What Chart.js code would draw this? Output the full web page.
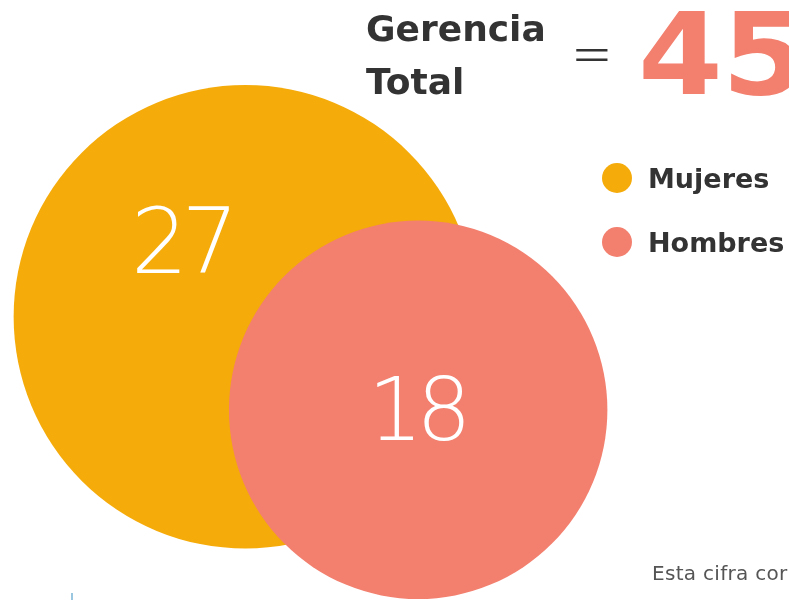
<!DOCTYPE html>
<html lang="es">
<head>
<meta charset="utf-8">
<script src="https://cdn.jsdelivr.net/npm/chart.js@4/dist/chart.umd.min.js"></script>
<style>
  html, body { margin: 0; padding: 0; background: #fff; overflow: hidden; }
  body { width: 789px; height: 600px; position: relative; font-family: 'DejaVu Sans', sans-serif; }
  #grafica { position: absolute; left: 0; top: 0; }
  .titulo { position: absolute; left: 366px; top: 2px; font-size: 36px; font-weight: bold; color: #333; line-height: 53px; }
  .igual { position: absolute; left: 571px; top: 23px; font-size: 60px; font-weight: 200; color: #333; transform: scaleX(0.83); transform-origin: left top; line-height: 1; }
  .total { position: absolute; left: 638px; top: -12px; font-size: 114px; font-weight: bold; color: #F37F6E; letter-spacing: -1px; transform: scaleX(1.07); transform-origin: left top; }
  .leyenda { position: absolute; left: 602px; top: 146px; }
  .leyenda div { display: flex; align-items: center; height: 64px; font-size: 27px; font-weight: bold; color: #333; }
  .leyenda span.punto { width: 30px; height: 30px; border-radius: 50%; margin-right: 16px; display: inline-block; }
  .nota { position: absolute; left: 652px; top: 561px; font-size: 20px; color: #555; white-space: nowrap; letter-spacing: 0.3px; }
  .marca { position: absolute; left: 71px; top: 593px; width: 2px; height: 7px; background: #9cc7e0; }
</style>
</head>
<body>
<canvas id="grafica" width="789" height="600"></canvas>
<div class="titulo">Gerencia<br>Total</div>
<div class="igual">=</div>
<div class="total" id="total"></div>
<div class="leyenda" id="leyenda"></div>
<div class="nota">Esta cifra corresponde</div>
<div class="marca"></div>
<script>
// datos
const categorias = ['Mujeres', 'Hombres'];
const valores = [27, 18];
const colores = ['#F5AB0A', '#F37F6E'];
// centro de cada burbuja (unidades de la escala 0-100)
const posX = [31.1, 53];
const posY = [47.2, 31.7];

document.addEventListener('DOMContentLoaded', () => {
    // total y leyenda
    document.getElementById('total').textContent = valores.reduce((a, b) => a + b, 0);
    const leyenda = document.getElementById('leyenda');
    categorias.forEach((c, i) => {
        const fila = document.createElement('div');
        fila.innerHTML = '<span class="punto" style="background:' + colores[i] + '"></span>' + c;
        leyenda.appendChild(fila);
    });

    // numero blanco dentro de cada burbuja (desplazado para la primera)
    const desplazamiento = [[-64, -67], [-2, 8]];
    const etiquetasBurbuja = {
        id: 'etiquetasBurbuja',
        afterDatasetsDraw(chart) {
            const ctx = chart.ctx;
            ctx.save();
            ctx.fillStyle = '#fff';
            ctx.textAlign = 'center';
            ctx.textBaseline = 'middle';
            ctx.letterSpacing = '-7px';
            chart.data.datasets.forEach((ds, i) => {
                const p = chart.getDatasetMeta(i).data[0];
                ctx.font = "200 " + (i === 0 ? 90 : 87) + "px 'DejaVu Sans', sans-serif";
                ctx.fillText(String(valores[i]), p.x + desplazamiento[i][0], p.y + desplazamiento[i][1]);
            });
            ctx.restore();
        }
    };

    try {
        const ctx = document.getElementById('grafica').getContext('2d');
        new Chart(ctx, {
            type: 'bubble',
            data: {
                datasets: categorias.map((c, i) => ({
                    label: c,
                    data: [{ x: posX[i], y: posY[i], r: Math.sqrt(valores[i]) * 44.6 }],
                    backgroundColor: colores[i],
                    borderWidth: 0,
                    hoverRadius: 0,
                    order: categorias.length - i,
                    clip: false
                }))
            },
            options: {
                responsive: false,
                animation: false,
                layout: { padding: 0, autoPadding: false },
                scales: {
                    x: { display: false, min: 0, max: 100 },
                    y: { display: false, min: 0, max: 100 }
                },
                plugins: {
                    legend: { display: false },
                    tooltip: { enabled: false }
                }
            },
            plugins: [etiquetasBurbuja]
        });
    } catch (e) {
        console.error('Error al crear la gráfica:', e);
    }
});
</script>
</body>
</html>
